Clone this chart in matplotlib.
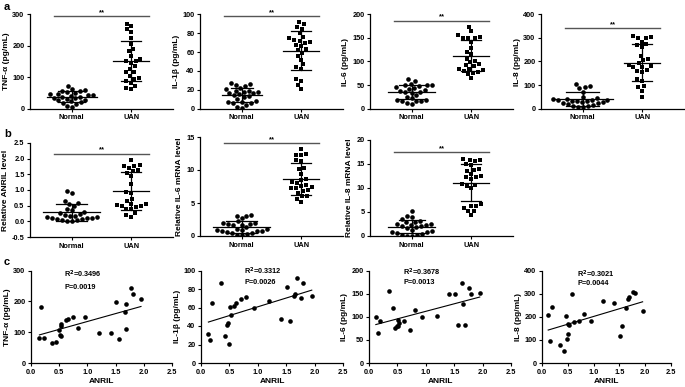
import numpy as np
import matplotlib
matplotlib.use("Agg")
import matplotlib.pyplot as plt

plt.rcParams["font.family"] = ["Liberation Sans", "DejaVu Sans"]
plt.rcParams["font.weight"] = "bold"
plt.rcParams["axes.labelweight"] = "bold"

# ---------- data ----------
groups = ["Normal", "UAN"]

# row a: serum cytokines (pg/mL)
tnf_normal = [73, 63, 60, 57, 55, 52, 50, 47, 45, 44, 42, 40, 38, 36, 35, 33, 30, 28, 26, 23, 20, 18, 15, 8, 5]
tnf_uan = [270, 263, 254, 245, 225, 206, 190, 183, 169, 159, 151, 151, 146, 135, 127, 116, 116, 105, 98, 93, 87, 80, 73, 66, 63]
il1b_normal = [27, 26, 25, 24, 22, 21, 19, 19, 18, 18, 17, 16, 15, 14, 13, 12, 10, 8, 7, 7, 6, 6, 4, 2, 1]
il1b_uan = [92, 90, 87, 85, 80, 76, 75, 73, 72, 71, 70, 68, 66, 63, 62, 59, 56, 52, 47, 44, 42, 31, 29, 25, 21]
il6_normal = [62, 59, 53, 51, 50, 49, 47, 45, 44, 42, 40, 38, 36, 35, 33, 28, 25, 22, 19, 18, 17, 17, 15, 12, 10]
il6_uan = [174, 164, 156, 152, 151, 150, 150, 142, 128, 120, 115, 106, 102, 98, 94, 92, 90, 85, 84, 82, 80, 78, 76, 73, 65]
il8_normal = [104, 96, 92, 88, 72, 50, 45, 42, 40, 38, 37, 35, 33, 32, 30, 28, 26, 25, 22, 18, 15, 12, 10, 8, 5]
il8_uan = [308, 305, 302, 298, 285, 275, 270, 262, 225, 212, 205, 195, 185, 180, 178, 175, 165, 160, 155, 125, 118, 95, 90, 75, 50]

# row b: relative expression
anril_normal = [0.97, 0.90, 0.65, 0.60, 0.55, 0.50, 0.40, 0.35, 0.30, 0.25, 0.22, 0.20, 0.18, 0.16, 0.15, 0.13, 0.12, 0.10, 0.10, 0.08, 0.07, 0.05, 0.03, 0.02, 0.01]
anril_uan = [1.95, 1.80, 1.78, 1.75, 1.70, 1.65, 1.60, 1.55, 1.45, 1.18, 0.95, 0.90, 0.72, 0.65, 0.55, 0.55, 0.52, 0.50, 0.48, 0.45, 0.40, 0.38, 0.25, 0.20, 0.15]
il6m_normal = [3.2, 3.1, 3.0, 2.7, 2.2, 2.0, 1.9, 1.8, 1.8, 1.7, 1.6, 1.3, 1.0, 1.0, 0.9, 0.9, 0.8, 0.8, 0.7, 0.6, 0.5, 0.4, 0.3, 0.2, 0.1]
il6m_uan = [13.2, 12.5, 12.3, 12.2, 11.5, 11.3, 10.3, 10.1, 9.4, 8.7, 8.5, 8.2, 8.0, 7.8, 7.6, 7.4, 7.3, 7.2, 7.0, 6.8, 6.5, 6.1, 6.0, 5.6, 5.1]
il8m_normal = [5.2, 4.1, 4.0, 3.5, 3.2, 3.0, 2.9, 2.5, 2.4, 2.3, 2.2, 2.1, 2.0, 1.9, 1.6, 1.2, 1.0, 0.9, 0.8, 0.7, 0.5, 0.3, 0.2, 0.1, 0.1]
il8m_uan = [16.0, 15.9, 15.8, 15.6, 15.1, 14.8, 13.9, 13.8, 13.6, 12.9, 12.5, 12.3, 12.2, 11.8, 10.9, 10.6, 10.4, 9.9, 6.7, 6.3, 6.2, 5.9, 5.3, 5.2, 4.4]

# row c: correlation with ANRIL in UAN patients
c_tnf_x = [0.15, 0.23, 0.18, 0.37, 0.45, 0.49, 0.51, 0.53, 0.53, 0.54, 0.62, 0.65, 0.74, 0.83, 0.96, 1.20, 1.41, 1.51, 1.56, 1.66, 1.68, 1.69, 1.77, 1.80, 1.95]
c_tnf_y = [81, 81, 183, 65, 68, 108, 92, 87, 119, 126, 140, 143, 149, 113, 150, 96, 96, 197, 79, 167, 191, 109, 244, 224, 208]
c_il1b_x = [0.13, 0.16, 0.20, 0.35, 0.42, 0.46, 0.48, 0.50, 0.51, 0.52, 0.58, 0.62, 0.71, 0.80, 0.94, 1.19, 1.40, 1.51, 1.56, 1.63, 1.66, 1.69, 1.76, 1.80, 1.95]
c_il1b_y = [31, 25, 65, 86, 29, 41, 43, 21, 61, 52, 62, 65, 69, 71, 60, 67, 48, 82, 45, 72, 75, 92, 70, 87, 72]
c_il6_x = [0.12, 0.16, 0.19, 0.35, 0.42, 0.46, 0.49, 0.51, 0.51, 0.53, 0.62, 0.72, 0.81, 0.94, 1.19, 1.40, 1.51, 1.56, 1.63, 1.65, 1.69, 1.76, 1.80, 1.95]
c_il6_y = [99, 64, 91, 156, 119, 76, 79, 81, 92, 86, 90, 72, 114, 99, 101, 149, 149, 83, 173, 128, 83, 163, 150, 151]
c_il8_x = [0.12, 0.15, 0.20, 0.35, 0.42, 0.46, 0.48, 0.51, 0.51, 0.52, 0.58, 0.62, 0.72, 0.81, 0.94, 1.19, 1.40, 1.51, 1.56, 1.63, 1.66, 1.69, 1.76, 1.80, 1.95]
c_il8_y = [209, 96, 242, 79, 53, 204, 105, 127, 170, 163, 299, 176, 183, 211, 183, 268, 260, 115, 160, 239, 276, 285, 305, 302, 224]

c_r2 = ["0.3496", "0.3312", "0.3678", "0.3021"]
c_p = ["0.0019", "0.0026", "0.0013", "0.0044"]

# ---------- layout helpers ----------
W, H = 685, 387
fig = plt.figure(figsize=(W / 100, H / 100), dpi=100)


def _box(l, t, r, b):
    return [l / W, 1 - b / H, (r - l) / W, (b - t) / H]


def _style(ax, ylim, yticks, ylabel):
    for s in ("top", "right"):
        ax.spines[s].set_visible(False)
    for s in ("left", "bottom"):
        ax.spines[s].set_linewidth(0.9)
    ax.set_ylim(*ylim)
    ax.set_yticks(yticks)
    ax.tick_params(direction="out", length=2.5, width=0.8, pad=1.5, labelsize=5.3)
    ax.set_ylabel(ylabel, fontsize=6, labelpad=2)


def _swarm(vals, ylim, h_px, x_px=60.0, d=5.0):
    # simple beeswarm: spread points sideways so they do not overlap
    vals = np.asarray(vals, dtype=float)
    ypx = (vals - ylim[0]) / (ylim[1] - ylim[0]) * h_px
    cands = sorted(np.arange(-30, 30.5, 0.5), key=lambda v: (abs(v), v))
    placed = []
    xs = np.zeros(len(vals))
    for i in np.argsort(vals):
        for off in cands:
            if all((off - px) ** 2 + (ypx[i] - py) ** 2 >= d * d for px, py in placed):
                break
        placed.append((off, ypx[i]))
        xs[i] = off / x_px
    return xs


def dot_panel(box, normal, uan, ylim, yticks, ylabel, sig_y):
    ax = fig.add_axes(_box(*box))
    _style(ax, ylim, yticks, ylabel)
    ax.set_xlim(-0.7, 1.7)
    h_px = box[3] - box[1]
    x_px = (box[2] - box[0]) / 2.4
    for gi, (vals, mk) in enumerate(((normal, "o"), (uan, "s"))):
        v = np.asarray(vals, dtype=float)
        off = _swarm(v, ylim, h_px, x_px)
        ax.scatter(gi + off, v, marker=mk, s=11 if mk == "o" else 9,
                   color="black", linewidths=0, zorder=3)
        m, sd = v.mean(), v.std(ddof=1)
        half = float(np.clip(np.abs(off).max() + 0.06, 0.3, 0.5))
        cap = half * 0.55
        ax.plot([gi - half, gi + half], [m, m], color="black", lw=0.9, zorder=4)
        ax.plot([gi, gi], [m - sd, m + sd], color="black", lw=0.9, zorder=4)
        ax.plot([gi - cap, gi + cap], [m + sd, m + sd], color="black", lw=0.9, zorder=4)
        ax.plot([gi - cap, gi + cap], [m - sd, m - sd], color="black", lw=0.9, zorder=4)
    ax.set_xticks([0, 1])
    ax.set_xticklabels(groups, fontsize=5.3)
    ax.plot([-0.3, 1.3], [sig_y, sig_y], color="#555555", lw=1.0, clip_on=False)
    ax.text(0.5, sig_y, "**", ha="center", va="bottom", fontsize=5.5)
    return ax


def corr_panel(box, xs, ys, ylim, yticks, ylabel, r2, p, txt_x, txt_y1, txt_y2):
    ax = fig.add_axes(_box(*box))
    _style(ax, ylim, yticks, ylabel)
    x = np.asarray(xs, dtype=float)
    y = np.asarray(ys, dtype=float)
    ax.set_xlim(0, 2.5)
    ax.set_xticks(np.arange(0, 2.51, 0.5))
    ax.xaxis.set_major_formatter(matplotlib.ticker.FormatStrFormatter("%.1f"))
    ax.scatter(x, y, s=11, color="black", linewidths=0, zorder=3)
    k, b = np.polyfit(x, y, 1)
    xx = np.array([x.min(), x.max()])
    ax.plot(xx, k * xx + b, color="black", lw=0.8)
    ax.set_xlabel("ANRIL", fontsize=6, labelpad=2)
    ax.text(txt_x, txt_y1, f"R$^{{\\mathbf{{2}}}}$={r2}", fontsize=5.3, va="center")
    ax.text(txt_x, txt_y2, f"P={p}", fontsize=5.3, va="center")
    return ax


# ---------- row a ----------
dot_panel((30, 14.5, 173, 108.5), tnf_normal, tnf_uan, (0, 300), [0, 100, 200, 300], "TNF-α (pg/mL)", 295)
dot_panel((200, 14.5, 343, 108.5), il1b_normal, il1b_uan, (0, 100), [0, 20, 40, 60, 80, 100], "IL-1β (pg/mL)", 98.5)
dot_panel((370, 14.5, 513, 108.5), il6_normal, il6_uan, (0, 200), [0, 50, 100, 150, 200], "IL-6 (pg/mL)", 187)
dot_panel((541, 14.5, 684, 108.5), il8_normal, il8_uan, (0, 400), [0, 100, 200, 300, 400], "IL-8 (pg/mL)", 343)

# ---------- row b ----------
axb1 = dot_panel((30, 143, 173, 237), anril_normal, anril_uan, (-0.5, 2.5),
                 [-0.5, 0.0, 0.5, 1.0, 1.5, 2.0, 2.5], "Relative ANRIL level", 2.16)
axb1.yaxis.set_major_formatter(matplotlib.ticker.FormatStrFormatter("%.1f"))
dot_panel((200, 137, 343, 236), il6m_normal, il6m_uan, (0, 15), [0, 5, 10, 15], "Relative IL-6 mRNA level", 14.1)
dot_panel((370, 140, 513, 236), il8m_normal, il8m_uan, (0, 20), [0, 5, 10, 15, 20], "Relative IL-8 mRNA level", 17.4)

# ---------- row c ----------
corr_panel((31, 270.5, 172, 363), c_tnf_x, c_tnf_y, (0, 300), [0, 100, 200, 300], "TNF-α (pg/mL)",
           c_r2[0], c_p[0], 0.59, 288, 245)
corr_panel((201, 270.5, 343, 363), c_il1b_x, c_il1b_y, (0, 100), [0, 20, 40, 60, 80, 100], "IL-1β (pg/mL)",
           c_r2[1], c_p[1], 0.76, 99, 87)
corr_panel((369, 270.5, 511, 363), c_il6_x, c_il6_y, (0, 200), [0, 50, 100, 150, 200], "IL-6 (pg/mL)",
           c_r2[2], c_p[2], 0.6, 196, 174)
corr_panel((542, 270.5, 671, 363), c_il8_x, c_il8_y, (0, 400), [0, 100, 200, 300, 400], "IL-8 (pg/mL)",
           c_r2[3], c_p[3], 0.68, 384, 342)

# panel letters
for lab, yy in (("a", 7), ("b", 134), ("c", 262)):
    fig.text(4 / W, 1 - yy / H, lab, fontsize=8, fontweight="bold", va="center", ha="left")

fig.savefig("out.png", dpi=100)
